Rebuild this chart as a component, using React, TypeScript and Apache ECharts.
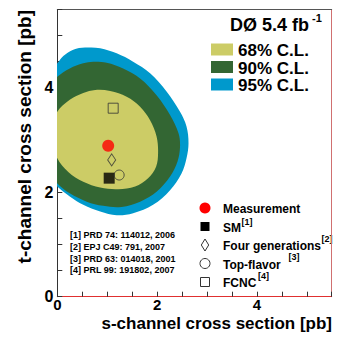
import React, { useEffect, useRef } from 'react';
import * as echarts from 'echarts';

const FONT = '"Liberation Sans", Arial, Helvetica, sans-serif';

// contour boundaries [s, t] in pb (clipped at s = 0)
const cl95: number[][] = [
  [-0.2, 4.25], [0, 4.47], [0.12, 4.61], [0.32, 4.73], [0.555, 4.77], [0.86, 4.76],
  [1.19, 4.66], [1.52, 4.5], [1.86, 4.28], [2.19, 3.93], [2.46, 3.54], [2.59, 3.26],
  [2.63, 2.94], [2.59, 2.65], [2.49, 2.36], [2.26, 2.04], [1.92, 1.76], [1.52, 1.6],
  [1.19, 1.56], [0.86, 1.63], [0.52, 1.76], [0.25, 1.92], [0, 2.11], [-0.2, 2.3],
  [-0.35, 3.2],
];
const cl90: number[][] = [
  [-0.2, 4.0], [0, 4.21], [0.25, 4.37], [0.52, 4.47], [0.72, 4.5], [0.99, 4.48],
  [1.32, 4.37], [1.66, 4.18], [1.99, 3.86], [2.26, 3.48], [2.43, 3.13], [2.46, 2.87],
  [2.41, 2.59], [2.26, 2.3], [1.99, 2.01], [1.66, 1.82], [1.29, 1.72], [0.92, 1.74],
  [0.59, 1.82], [0.25, 1.98], [0, 2.17], [-0.2, 2.4], [-0.3, 3.2],
];
const cl68: number[][] = [
  [-0.05, 3.3], [0, 3.54], [0.25, 3.77], [0.52, 3.9], [0.76, 3.96], [1.06, 3.94],
  [1.39, 3.83], [1.66, 3.64], [1.86, 3.38], [1.99, 3.07], [2.02, 2.75], [1.98, 2.49],
  [1.82, 2.27], [1.56, 2.11], [1.22, 2.06], [0.86, 2.09], [0.52, 2.2], [0.22, 2.39],
  [0, 2.65], [-0.08, 3.0],
];

const pointNames = ['Measurement', 'SM', 'Four generations', 'Top-flavor', 'FCNC'];
const pointS = [1.02, 1.04, 1.09, 1.24, 1.12];
const pointT = [2.89, 2.27, 2.62, 2.33, 3.61];
const pointSup = ['', '[1]', '[2]', '[3]', '[4]'];

const clLabels = ['68% C.L.', '90% C.L.', '95% C.L.'];
const clColors = ['#cccc66', '#336633', '#0099cc'];

const refs = [
  '[1] PRD 74: 114012, 2006',
  '[2] EPJ C49: 791, 2007',
  '[3] PRD 63: 014018, 2001',
  '[4] PRL 99: 191802, 2007',
];

const tickLabels = [0, 2, 4];

function contourSeries(name: string, pts: number[][], color: string) {
  return {
    type: 'custom',
    name,
    coordinateSystem: 'cartesian2d',
    clip: true,
    silent: true,
    data: pts,
    encode: { x: 0, y: 1 },
    renderItem: (params: any, api: any) => {
      if (params.dataIndex !== 0) return null;
      const points = pts.map((p) => api.coord(p));
      return {
        type: 'polygon',
        shape: { points, smooth: 0.35 },
        style: { fill: color, stroke: 'none' },
      };
    },
  };
}

export default function App() {
  const ref = useRef<HTMLDivElement>(null);
  useEffect(() => {
    if (!ref.current) return;
    const chart = echarts.init(ref.current, undefined, { renderer: 'svg' });
    const fmt = (v: number) => (tickLabels.some((t) => Math.abs(t - v) < 1e-9) ? String(v) : '');
    const markerStyles = [
      { symbol: 'circle', symbolSize: 12, itemStyle: { color: '#ff0000' } },
      { symbol: 'rect', symbolSize: 11, itemStyle: { color: '#000000' } },
      { symbol: 'diamond', symbolSize: [8, 12], itemStyle: { color: 'transparent', borderColor: '#333', borderWidth: 1 } },
      { symbol: 'circle', symbolSize: 10, itemStyle: { color: 'transparent', borderColor: '#333', borderWidth: 1 } },
      { symbol: 'rect', symbolSize: 10, itemStyle: { color: 'transparent', borderColor: '#333', borderWidth: 1 } },
    ];
    const pointSeries = pointNames.map((n, i) => ({
      type: 'scatter',
      name: n,
      data: [[pointS[i], pointT[i]]],
      ...markerStyles[i],
      z: 5,
    }));

    const rowY = [208, 226.5, 245, 263.5, 282];
    const supPos = [null, [241.5, 222], [321.5, 238.5], [288.5, 257], [258, 275.5]];
    const graphics: any[] = [];
    // title
    graphics.push({ type: 'text', x: 309, y: 25, style: { text: 'DØ 5.4 fb', font: `bold 18px ${FONT}`, fill: '#000', align: 'right', verticalAlign: 'middle' } });
    graphics.push({ type: 'text', x: 312, y: 18, style: { text: '-1', font: `bold 11px ${FONT}`, fill: '#000', align: 'left', verticalAlign: 'middle' } });
    // C.L. legend
    const clRows = [49.5, 67, 84.5];
    clLabels.forEach((l, i) => {
      graphics.push({ type: 'rect', shape: { x: 211, y: clRows[i] - 6, width: 22, height: 12 }, style: { fill: clColors[i] } });
      graphics.push({ type: 'text', x: 238, y: clRows[i] + 1, style: { text: l, font: `bold 17px ${FONT}`, fill: '#000', align: 'left', verticalAlign: 'middle' } });
    });
    // point legend markers
    graphics.push({ type: 'circle', shape: { cx: 205, cy: rowY[0], r: 5.5 }, style: { fill: '#ff0000' } });
    graphics.push({ type: 'rect', shape: { x: 200.5, y: rowY[1] - 4.5, width: 9, height: 9 }, style: { fill: '#000' } });
    graphics.push({ type: 'polygon', shape: { points: [[205, rowY[2] - 6], [208.7, rowY[2]], [205, rowY[2] + 6], [201.3, rowY[2]]] }, style: { fill: 'none', stroke: '#333', lineWidth: 1 } });
    graphics.push({ type: 'circle', shape: { cx: 205, cy: rowY[3], r: 5 }, style: { fill: 'none', stroke: '#333', lineWidth: 1 } });
    graphics.push({ type: 'rect', shape: { x: 200.5, y: rowY[4] - 4.5, width: 9, height: 9 }, style: { fill: 'none', stroke: '#333', lineWidth: 1 } });
    pointNames.forEach((n, i) => {
      graphics.push({ type: 'text', x: 223, y: rowY[i] + 1, style: { text: n, font: `bold 12px ${FONT}`, fill: '#000', align: 'left', verticalAlign: 'middle' } });
      const sp = supPos[i];
      if (sp) {
        graphics.push({ type: 'text', x: sp[0], y: sp[1], style: { text: pointSup[i], font: `bold 9px ${FONT}`, fill: '#000', align: 'left', verticalAlign: 'middle' } });
      }
    });
    // references
    const refY = [235, 247, 258.5, 270];
    refs.forEach((r, i) => {
      graphics.push({ type: 'text', x: 70, y: refY[i], style: { text: r, font: `bold 9px ${FONT}`, fill: '#000', align: 'left', verticalAlign: 'middle' } });
    });
    // axis titles
    graphics.push({ type: 'text', x: 332, y: 323.5, style: { text: 's-channel cross section [pb]', font: `bold 17px ${FONT}`, fill: '#000', align: 'right', verticalAlign: 'middle' } });
    graphics.push({ type: 'text', x: 24, y: 10, rotation: Math.PI / 2, style: { text: 't-channel cross section [pb]', font: `bold 19px ${FONT}`, fill: '#000', align: 'right', verticalAlign: 'middle' } });

    const axisBase = {
      type: 'value',
      min: 0,
      max: 5.5,
      interval: 0.5,
      splitLine: { show: false },
      axisTick: { show: true, inside: true, length: 5, lineStyle: { color: '#333', width: 1 } },
      axisLabel: { formatter: fmt, fontFamily: FONT, fontWeight: 'bold', fontSize: 16, color: '#000' },
    };

    chart.setOption({
      animation: false,
      backgroundColor: '#ffffff',
      textStyle: { fontFamily: FONT },
      grid: { left: 57.3, top: 9.5, right: 14.3, bottom: 49.3, containLabel: false },
      xAxis: [
        { ...axisBase, position: 'bottom', axisLine: { show: true, onZero: false, lineStyle: { color: '#e03030', width: 1 } }, axisLabel: { ...axisBase.axisLabel, fontSize: 15, margin: 0 } },
        { type: 'value', position: 'top', min: 0, max: 5.5, axisLine: { show: true, onZero: false, lineStyle: { color: '#555', width: 1 } }, axisTick: { show: false }, axisLabel: { show: false }, splitLine: { show: false } },
      ],
      yAxis: [
        { ...axisBase, position: 'left', axisLine: { show: true, onZero: false, lineStyle: { color: '#333', width: 1 } }, axisLabel: { ...axisBase.axisLabel, margin: 4 } },
        { type: 'value', position: 'right', min: 0, max: 5.5, axisLine: { show: true, onZero: false, lineStyle: { color: '#d07070', width: 1 } }, axisTick: { show: false }, axisLabel: { show: false }, splitLine: { show: false } },
      ],
      series: [
        contourSeries('95% C.L.', cl95, clColors[2]),
        contourSeries('90% C.L.', cl90, clColors[1]),
        contourSeries('68% C.L.', cl68, clColors[0]),
        ...pointSeries,
      ],
      graphic: graphics,
    });
    return () => chart.dispose();
  }, []);
  return <div ref={ref} style={{ position: 'fixed', left: 0, top: 0, width: 346, height: 346 }} />;
}
